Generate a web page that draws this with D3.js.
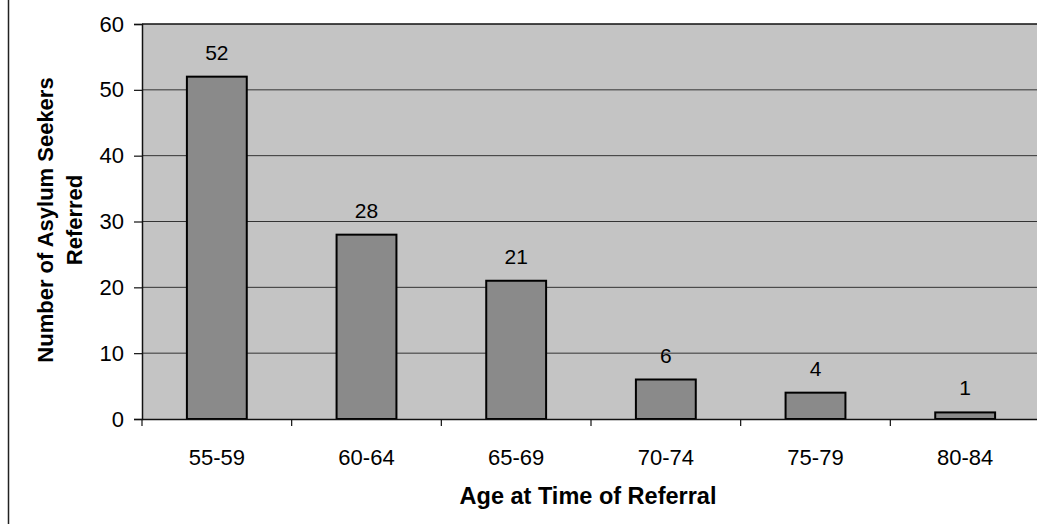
<!DOCTYPE html>
<html>
<head>
<meta charset="utf-8">
<script src="https://cdn.jsdelivr.net/npm/d3@7"></script>
<style>
  body { margin: 0; background: #fff; }
  text { font-family: Arial, "Liberation Sans", sans-serif; fill: #000; }
</style>
</head>
<body>
<div id="visContainer"></div>
<script>
// age groups and counts
const ageGroups = ["55-59", "60-64", "65-69", "70-74", "75-79", "80-84"];
const referred = [52, 28, 21, 6, 4, 1];
const yTicks = [0, 10, 20, 30, 40, 50, 60];

const width = 1037;
const height = 524;
const margin = {top: 24, right: -3, bottom: 105, left: 142};

const svg = d3
  .select("#visContainer")
  .append("svg")
  .attr("width", width)
  .attr("height", height);

const dataset = ageGroups.map((g, i) => ({group: g, count: referred[i]}));

const xScale = d3
  .scaleBand()
  .domain(ageGroups)
  .range([margin.left, width - margin.right])
  .paddingInner(0.6)
  .paddingOuter(0.3);

const yScale = d3
  .scaleLinear()
  .domain([0, 60])
  .range([height - margin.bottom, margin.top]);

// left frame line of the chart area
svg.append("line")
  .attr("x1", 8.5).attr("x2", 8.5)
  .attr("y1", 0).attr("y2", height)
  .attr("stroke", "#222").attr("stroke-width", 1.5);

// plot background
svg.append("rect")
  .attr("x", margin.left)
  .attr("y", yScale(60))
  .attr("width", width - margin.left - margin.right)
  .attr("height", yScale(0) - yScale(60))
  .attr("fill", "#c4c4c4");

// gridlines
svg.append("g")
  .selectAll("line")
  .data(yTicks.filter((t) => t > 0))
  .join("line")
  .attr("x1", margin.left)
  .attr("x2", width)
  .attr("y1", (d) => yScale(d))
  .attr("y2", (d) => yScale(d))
  .attr("stroke", (d) => d === 60 ? "#111" : "#333")
  .attr("stroke-width", (d) => d === 60 ? 1.5 : 1);

// bars
svg.append("g")
  .selectAll("rect")
  .data(dataset)
  .join("rect")
  .attr("x", (d) => xScale(d.group))
  .attr("y", (d) => yScale(d.count))
  .attr("width", xScale.bandwidth())
  .attr("height", (d) => yScale(0) - yScale(d.count))
  .attr("fill", "#8a8a8a")
  .attr("stroke", "#000")
  .attr("stroke-width", 2);

// value labels
svg.append("g")
  .selectAll("text")
  .data(dataset)
  .join("text")
  .attr("x", (d) => xScale(d.group) + xScale.bandwidth() / 2)
  .attr("y", (d) => yScale(d.count) - 17)
  .attr("text-anchor", "middle")
  .style("font-size", "21px")
  .text((d) => d.count);

// y axis
const yAxis = svg
  .append("g")
  .attr("transform", `translate(${margin.left}, 0)`)
  .call(d3.axisLeft(yScale).tickValues(yTicks).tickSize(8).tickPadding(10));
yAxis.select(".domain").attr("stroke", "#111").attr("stroke-width", 1.5);
yAxis.selectAll(".tick line").attr("stroke", "#111").attr("stroke-width", 1.2);
yAxis.selectAll(".tick text")
  .style("font-size", "22px")
  .style("font-family", "Arial, 'Liberation Sans', sans-serif")
  .attr("fill", "#000");

// x axis: labels centred, ticks at category boundaries
const xAxis = svg
  .append("g")
  .attr("transform", `translate(0, ${yScale(0)})`)
  .call(d3.axisBottom(xScale).tickSize(0).tickPadding(30).tickSizeOuter(0));
xAxis.select(".domain").attr("stroke", "#111").attr("stroke-width", 1.5);
xAxis.selectAll(".tick text")
  .style("font-size", "22px")
  .style("font-family", "Arial, 'Liberation Sans', sans-serif")
  .attr("fill", "#000");

svg.append("g")
  .selectAll("line")
  .data(d3.range(ageGroups.length + 1))
  .join("line")
  .attr("x1", (i) => margin.left + i * xScale.step())
  .attr("x2", (i) => margin.left + i * xScale.step())
  .attr("y1", yScale(0))
  .attr("y2", yScale(0) + 7)
  .attr("stroke", "#111")
  .attr("stroke-width", 1.2);

// axis titles
svg.append("text")
  .attr("x", 588)
  .attr("y", 504)
  .attr("text-anchor", "middle")
  .style("font-size", "23.5px")
  .style("font-weight", "bold")
  .text("Age at Time of Referral");

const yTitle = svg.append("text")
  .attr("transform", "translate(53, 220) rotate(-90)")
  .attr("text-anchor", "middle")
  .style("font-size", "22px")
  .style("font-weight", "bold");
yTitle.append("tspan").attr("x", 0).attr("y", 0).text("Number of Asylum Seekers");
yTitle.append("tspan").attr("x", 0).attr("y", 29).text("Referred");
</script>
</body>
</html>
